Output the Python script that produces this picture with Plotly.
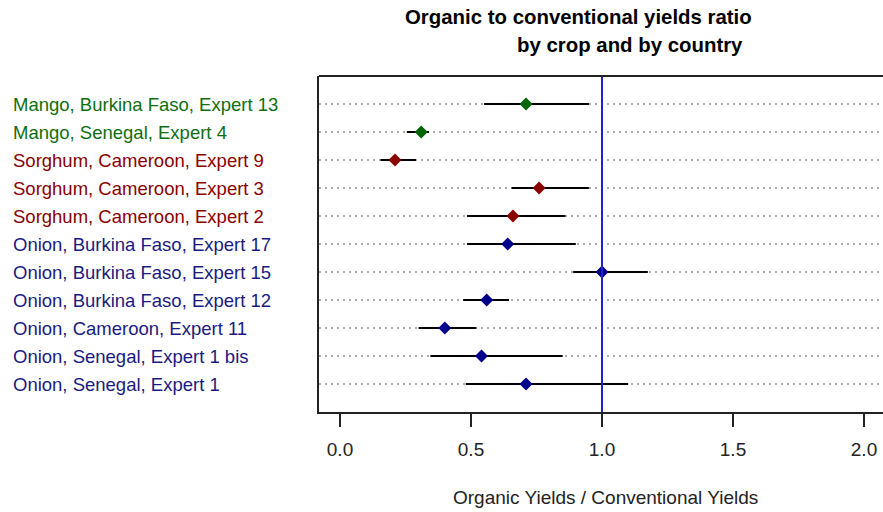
import plotly.graph_objects as go

# Data (bottom row first)
labels = [
    "Onion, Senegal, Expert 1",
    "Onion, Senegal, Expert 1 bis",
    "Onion, Cameroon, Expert 11",
    "Onion, Burkina Faso, Expert 12",
    "Onion, Burkina Faso, Expert 15",
    "Onion, Burkina Faso, Expert 17",
    "Sorghum, Cameroon, Expert 2",
    "Sorghum, Cameroon, Expert 3",
    "Sorghum, Cameroon, Expert 9",
    "Mango, Senegal, Expert 4",
    "Mango, Burkina Faso, Expert 13",
]
crops = ["Onion"] * 6 + ["Sorghum"] * 3 + ["Mango"] * 2
ratio = [0.71, 0.54, 0.40, 0.56, 1.00, 0.64, 0.66, 0.76, 0.21, 0.31, 0.71]
lower = [0.48, 0.345, 0.30, 0.47, 0.89, 0.485, 0.485, 0.655, 0.155, 0.255, 0.55]
upper = [1.10, 0.85, 0.52, 0.645, 1.175, 0.90, 0.86, 0.95, 0.29, 0.34, 0.95]
x_ticks = [0.0, 0.5, 1.0, 1.5, 2.0]

crop_colors = {"Onion": "#1a1a80", "Sorghum": "#8b0000", "Mango": "#0f6e0f"}
marker_colors = {"Onion": "#00008b", "Sorghum": "#8b0000", "Mango": "#006400"}

W, H = 883, 512
L, R, T, B = 319, 0, 76, 100
pw = W - L - R
ph = H - T - B

def px_x(px):
    return (px - L) / pw

def px_y(py):
    return (H - B - py) / ph

fig = go.Figure()

for crop in ["Onion", "Sorghum", "Mango"]:
    idx = [i for i, c in enumerate(crops) if c == crop]
    fig.add_trace(go.Scatter(
        x=[ratio[i] for i in idx],
        y=[labels[i] for i in idx],
        mode="markers",
        marker=dict(symbol="diamond", size=10, color=marker_colors[crop],
                    line=dict(width=0)),
        error_x=dict(type="data", symmetric=False,
                     array=[upper[i] - ratio[i] for i in idx],
                     arrayminus=[ratio[i] - lower[i] for i in idx],
                     color="black", thickness=2, width=0),
        showlegend=False,
        hoverinfo="x+y",
    ))

font = "Liberation Sans, Arial, sans-serif"

annotations = []
for lab, crop in zip(labels, crops):
    annotations.append(dict(
        x=0, xref="paper", xanchor="left", xshift=11 - L,
        y=lab, yref="y", yanchor="middle",
        text=lab, showarrow=False,
        font=dict(family=font, size=18.5, color=crop_colors[crop]),
    ))

annotations += [
    dict(x=px_x(578), y=px_y(17), xref="paper", yref="paper",
         text="<b>Organic to conventional yields ratio</b>", showarrow=False,
         xanchor="center", yanchor="middle",
         font=dict(family=font, size=20.4, color="black")),
    dict(x=px_x(630), y=px_y(45), xref="paper", yref="paper",
         text="<b>by crop and by country</b>", showarrow=False,
         xanchor="center", yanchor="middle",
         font=dict(family=font, size=20.4, color="black")),
    dict(x=px_x(605), y=px_y(497), xref="paper", yref="paper",
         text="Organic Yields / Conventional Yields", showarrow=False,
         xanchor="center", yanchor="middle",
         font=dict(family=font, size=19, color="#222222")),
]

shapes = [
    dict(type="line", xref="x", yref="paper", x0=1, x1=1, y0=0, y1=1,
         line=dict(color="#2020d0", width=2), layer="above"),
    dict(type="line", xref="paper", yref="paper", x0=0, x1=1.05, y0=1, y1=1,
         line=dict(color="#222222", width=2), layer="above"),
]

fig.update_layout(
    width=W, height=H,
    margin=dict(l=L, r=R, t=T, b=B, pad=0),
    paper_bgcolor="white", plot_bgcolor="white",
    annotations=annotations, shapes=shapes,
    xaxis=dict(
        range=[(L - 340) / 262, (W - 340) / 262],
        tickvals=x_ticks, tickformat=".1f",
        ticks="outside", ticklen=13, tickwidth=1.5, tickcolor="#222222",
        showline=True, linecolor="#222222", linewidth=2,
        showgrid=False, zeroline=False,
        tickfont=dict(family=font, size=19, color="#222222"),
        ticklabelstandoff=6,
    ),
    yaxis=dict(
        type="category", categoryorder="array", categoryarray=labels,
        range=[-1, len(labels)],
        showticklabels=False, ticks="",
        showline=True, linecolor="#222222", linewidth=2,
        showgrid=True, gridcolor="#aaaaaa", griddash="2px,4px", gridwidth=1.5,
        zeroline=False,
    ),
)

fig.write_html(
    "out.html",
    config={"displayModeBar": False},
    post_script="document.body.style.margin='0px';document.body.style.overflow='hidden';",
)
